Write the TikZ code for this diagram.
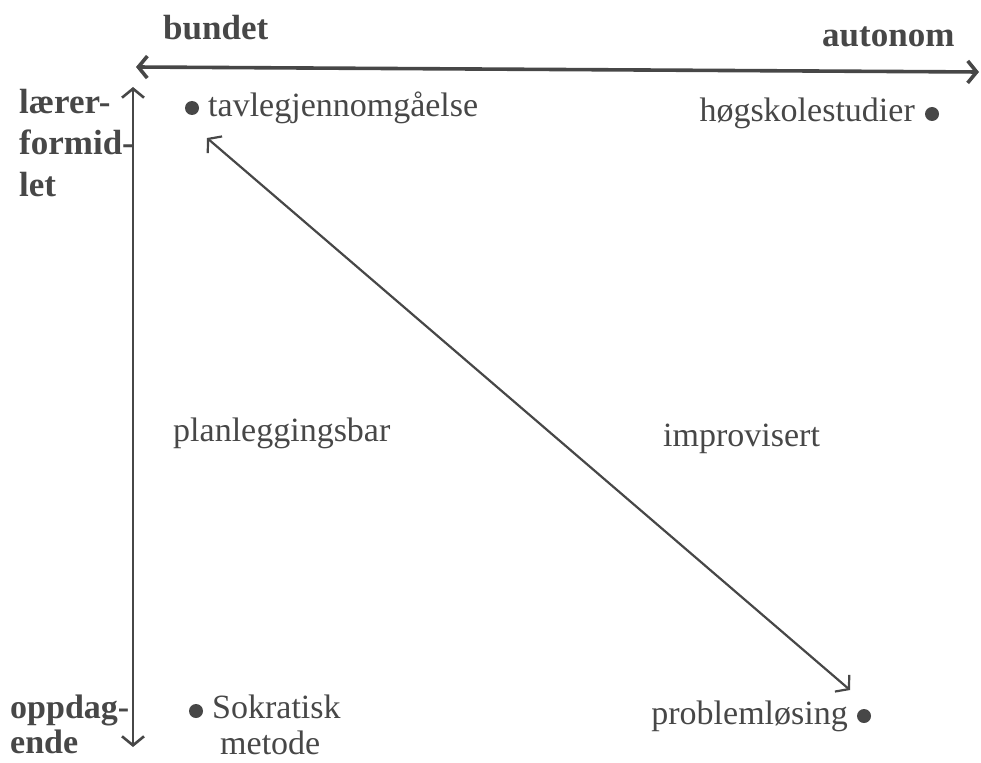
\documentclass[tikz,border=0pt]{standalone}
\usepackage{fontspec}
\setmainfont{Liberation Serif}
\usetikzlibrary{arrows.meta}
\definecolor{ink}{gray}{0.28}

\begin{document}
\begin{tikzpicture}[x=1pt, y=-1pt,
    lbl/.style={font=\fontsize{34}{38}\selectfont, text=ink, inner sep=0pt, anchor=base west},
    pole/.style={font=\fontsize{35}{41}\selectfont\bfseries, text=ink, inner sep=0pt, anchor=base west, align=left},
    dot/.style={circle, fill=ink, inner sep=0pt, minimum size=14pt},
    arr/.style={{Straight Barb[length=9pt,width=22pt]}-{Straight Barb[length=9pt,width=22pt]}, draw=ink, line width=2.6pt}
]
\useasboundingbox (0,0) rectangle (981,762);

% axes
\coordinate (hl) at (136,67);
\coordinate (hr) at (979,72);
\coordinate (vt) at (133,87);
\coordinate (vb) at (133,747);
\draw[arr, line width=3.6pt] (hl) -- (hr);
\draw[arr] (vt) -- (vb);

\node[pole] (bundet)  at (163,40)  {bundet};
\node[pole] (autonom) at (822,47)  {autonom};
\node[pole] (laerer)  at (19,196)  {lærer-\\formid-\\let};
\node[pole, font=\fontsize{34}{35}\selectfont\bfseries] (oppdag) at (10,753) {oppdag-\\ende};

% corners
\node[dot] (d1) at (192,108) {};
\node[lbl] (tavle) at (208,117) {tavlegjennomgåelse};
\node[dot] (d2) at (932,114) {};
\node[lbl, anchor=base east] (hogsk) at (915,122) {høgskolestudier};
\node[dot] (d3) at (196,711) {};
\node[lbl, align=left, font=\fontsize{34}{36}\selectfont] (sokr) at (212,754) {Sokratisk\\\hspace*{8pt}metode};
\node[dot] (d4) at (864,716) {};
\node[lbl, anchor=base east] (probl) at (848,724) {problemløsing};

\node[lbl] (plan)  at (173,441) {planleggingsbar};
\node[lbl] (impro) at (663,446) {improvisert};

% diagonal
\coordinate (ds) at (207,138);
\coordinate (de) at (850,690);
\draw[arr, line width=2.2pt] (ds) -- (de);
\end{tikzpicture}
\end{document}
